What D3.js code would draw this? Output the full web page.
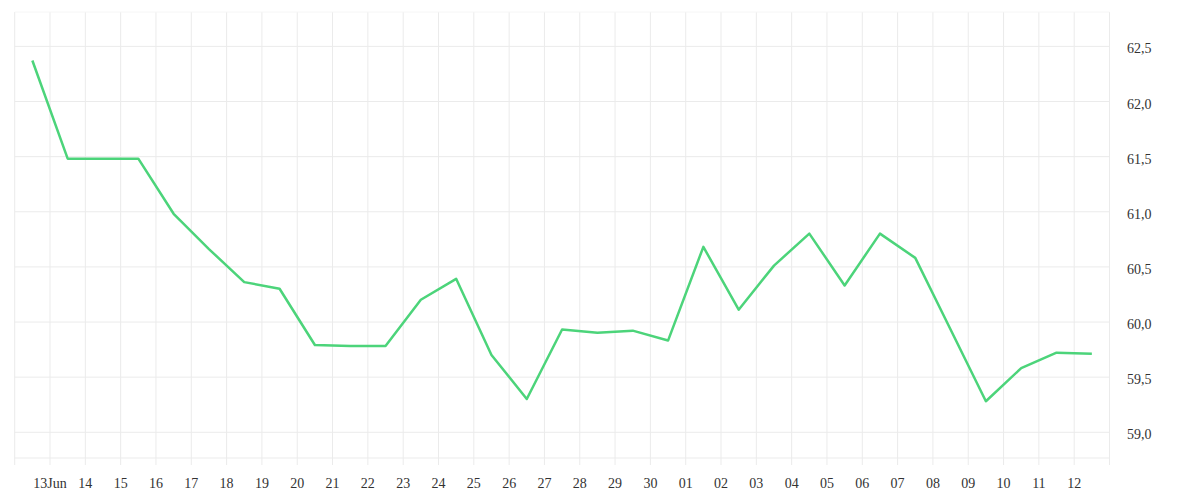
<!DOCTYPE html>
<html><head><meta charset="utf-8">
<script src="https://cdn.jsdelivr.net/npm/d3@7"></script>
<style>body{margin:0;background:#fff}</style></head>
<body><svg id="c" width="1200" height="500"></svg>
<script>
const dayOffsets = [0.5,1.5,2.5,3.5,4.5,5.5,6.5,7.5,8.5,9.5,10.5,11.5,12.5,13.5,14.5,15.5,16.5,17.5,18.5,19.5,20.5,21.5,22.5,23.5,24.5,25.5,26.5,27.5,28.5,29.5,30.5];
const values = [62.39,61.50,61.50,61.50,61.0,60.68,60.38,60.32,59.81,59.80,59.80,60.22,60.41,59.72,59.32,59.95,59.92,59.94,59.85,60.70,60.13,60.53,60.82,60.35,60.82,60.60,59.95,59.30,59.60,59.74,59.73];
const xTickDays = [1,2,3,4,5,6,7,8,9,10,11,12,13,14,15,16,17,18,19,20,21,22,23,24,25,26,27,28,29,30];
const xTickLabels = ["13Jun","14","15","16","17","18","19","20","21","22","23","24","25","26","27","28","29","30","01","02","03","04","05","06","07","08","09","10","11","12"];
const yTicks = [59.0,59.5,60.0,60.5,61.0,61.5,62.0,62.5];

const svg = d3.select("#c");
const L=14.7, R=1109.5, T=12, B=458;
const x = d3.scaleLinear().domain([0,31]).range([L,R]);
const y = d3.scaleLinear().domain([58.785,62.83]).range([B,T]);
const grid="#ebebeb";
const g = svg.append("g");
xTickDays.forEach(d=>g.append("line").attr("x1",x(d)).attr("x2",x(d)).attr("y1",T).attr("y2",B+7).attr("stroke",grid));
[L,R].forEach(v=>g.append("line").attr("x1",v).attr("x2",v).attr("y1",T).attr("y2",B+7).attr("stroke",grid));
yTicks.forEach(v=>g.append("line").attr("x1",L).attr("x2",R).attr("y1",y(v)-2).attr("y2",y(v)-2).attr("stroke",grid));
g.append("line").attr("x1",L).attr("x2",R).attr("y1",B).attr("y2",B).attr("stroke",grid);
g.append("line").attr("x1",L).attr("x2",R).attr("y1",T).attr("y2",T).attr("stroke","#f6f6f6");

const font="Liberation Serif";
xTickDays.forEach((d,i)=>svg.append("text").attr("x",x(d)).attr("y",488).attr("text-anchor","middle")
  .attr("font-family",font).attr("font-size",14).attr("fill","#333").text(xTickLabels[i]));
yTicks.forEach(v=>svg.append("text").attr("x",1127).attr("y",y(v)+5).attr("font-family",font)
  .attr("font-size",14).attr("fill","#333").text(v.toFixed(1).replace(".",",")));

svg.append("path").datum(dayOffsets.map((d,i)=>[d,values[i]]))
  .attr("d",d3.line().x(d=>x(d[0])).y(d=>y(d[1])))
  .attr("fill","none").attr("stroke","#4cd47a").attr("stroke-width",2.5).attr("stroke-linejoin","round");
</script></body></html>
